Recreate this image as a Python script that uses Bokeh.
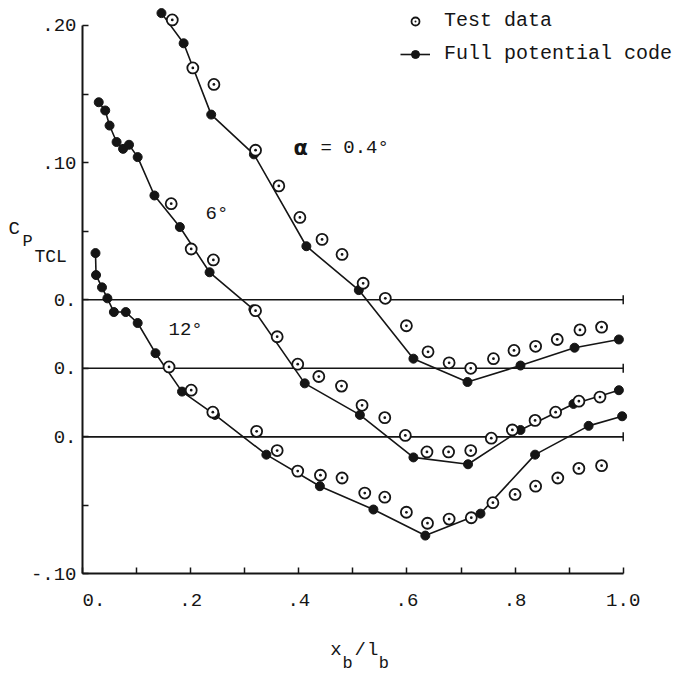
import math
from bokeh.plotting import figure
from bokeh.models import Range1d, FixedTicker, Label, Legend, LegendItem, ColumnDataSource
from bokeh.embed import file_html
from bokeh.resources import INLINE

# ---------------- data ----------------
# alpha = 0.4 deg  (plotted with zero at 0.00)
x_fp_a04 = [0.146, 0.187, 0.238, 0.317, 0.414, 0.511, 0.612, 0.712, 0.810, 0.910, 0.992]
cp_fp_a04 = [0.209, 0.187, 0.135, 0.106, 0.039, 0.007, -0.043, -0.060, -0.048, -0.035, -0.029]
x_td_a04 = [0.166, 0.204, 0.243, 0.320, 0.363, 0.402, 0.443, 0.480, 0.519, 0.560,
            0.599, 0.639, 0.678, 0.718, 0.760, 0.798, 0.838, 0.878, 0.920, 0.960]
cp_td_a04 = [0.204, 0.169, 0.157, 0.109, 0.083, 0.060, 0.044, 0.033, 0.012, 0.001,
             -0.019, -0.038, -0.046, -0.050, -0.043, -0.037, -0.034, -0.029, -0.022, -0.020]

# alpha = 6 deg  (plotted with zero shifted down by 0.05)
x_fp_a06 = [0.030, 0.042, 0.050, 0.063, 0.075, 0.086, 0.102, 0.133, 0.180, 0.235,
            0.316, 0.411, 0.513, 0.612, 0.713, 0.810, 0.908, 0.992]
cp_fp_a06 = [0.194, 0.188, 0.177, 0.165, 0.160, 0.163, 0.154, 0.126, 0.103, 0.070,
             0.043, -0.011, -0.034, -0.065, -0.070, -0.045, -0.026, -0.016]
x_td_a06 = [0.164, 0.201, 0.242, 0.320, 0.360, 0.398, 0.437, 0.479, 0.517, 0.559,
            0.597, 0.637, 0.677, 0.718, 0.756, 0.795, 0.837, 0.875, 0.918, 0.957]
cp_td_a06 = [0.120, 0.087, 0.079, 0.042, 0.023, 0.003, -0.006, -0.013, -0.027, -0.036,
             -0.049, -0.061, -0.061, -0.060, -0.051, -0.045, -0.038, -0.032, -0.024, -0.021]

# alpha = 12 deg  (plotted with zero shifted down by 0.10)
x_fp_a12 = [0.024, 0.025, 0.036, 0.046, 0.058, 0.080, 0.102, 0.135, 0.184, 0.245,
            0.340, 0.439, 0.538, 0.634, 0.736, 0.837, 0.936, 0.998]
cp_fp_a12 = [0.134, 0.118, 0.109, 0.101, 0.091, 0.091, 0.083, 0.061, 0.033, 0.016,
             -0.013, -0.036, -0.053, -0.072, -0.056, -0.013, 0.008, 0.015]
x_td_a12 = [0.160, 0.201, 0.241, 0.322, 0.360, 0.398, 0.440, 0.480, 0.522, 0.559,
            0.599, 0.638, 0.678, 0.719, 0.759, 0.800, 0.838, 0.879, 0.918, 0.960]
cp_td_a12 = [0.051, 0.034, 0.018, 0.004, -0.010, -0.025, -0.028, -0.030, -0.041, -0.044,
             -0.055, -0.063, -0.060, -0.059, -0.048, -0.042, -0.036, -0.030, -0.023, -0.021]

curve_offsets = [0.0, 0.05, 0.10]          # vertical stagger of the three curves
curve_labels = ["0.4", "6", "12"]

y_tick_values = [-0.20, -0.15, -0.10, -0.05, 0.0, 0.05, 0.10, 0.15, 0.20]
y_tick_labels = ["-.10", "", "0.", "0.", "0.", "", ".10", "", ".20"]
x_tick_values = [0.0, 0.1, 0.2, 0.3, 0.4, 0.5, 0.6, 0.7, 0.8, 0.9, 1.0]
x_tick_labels = ["\u00a0\u00a00.", "", ".2", "", ".4", "", ".6", "", ".8", "", "1.0"]

# ---------------- figure ----------------
INK = "#151515"
MONO = "Liberation Mono"

p = figure(width=681, height=677, output_backend="svg", toolbar_location=None,
           x_range=Range1d(-0.1517, 1.1078), y_range=Range1d(-0.2755, 0.2182),
           min_border_left=0, min_border_right=0, min_border_top=0, min_border_bottom=0)
p.outline_line_color = None
p.grid.visible = False
p.background_fill_color = "white"
p.border_fill_color = "white"

# axes (drawn at the data position of the plot's own frame)
p.xaxis.fixed_location = -0.20
p.yaxis.fixed_location = 0.0
p.xaxis.bounds = (0.0, 1.0)
p.yaxis.bounds = (-0.20, 0.20)
p.xaxis.ticker = FixedTicker(ticks=x_tick_values)
p.yaxis.ticker = FixedTicker(ticks=y_tick_values)
p.xaxis.major_label_overrides = {v: s for v, s in zip(x_tick_values, x_tick_labels)}
p.yaxis.major_label_overrides = {v: s for v, s in zip(y_tick_values, y_tick_labels)}
for ax in (p.xaxis[0], p.yaxis[0]):
    ax.axis_line_color = INK
    ax.axis_line_width = 2
    ax.major_tick_line_color = INK
    ax.major_tick_line_width = 1.5
    ax.major_tick_in = 6
    ax.major_tick_out = 0
    ax.minor_tick_line_color = None
    ax.major_label_text_font = MONO
    ax.major_label_text_font_size = "19px"
    ax.major_label_text_color = INK
p.xaxis.major_label_standoff = 16
p.yaxis.major_label_standoff = 6

# reference (zero) lines of the three curves, with an end tick at x = 1.0
zero_y = [-o for o in curve_offsets]
p.segment(x0=[x_tick_values[0]] * 3, x1=[x_tick_values[-1]] * 3, y0=zero_y, y1=zero_y,
          line_color=INK, line_width=1.6)
p.scatter(x=[x_tick_values[-1]] * 3, y=zero_y, marker="dash", angle=math.pi / 2, size=9,
          line_color=INK, line_width=1.5)

series = [
    (x_fp_a04, cp_fp_a04, x_td_a04, cp_td_a04),
    (x_fp_a06, cp_fp_a06, x_td_a06, cp_td_a06),
    (x_fp_a12, cp_fp_a12, x_td_a12, cp_td_a12),
]

legend_line = legend_dot = legend_open = None
for (xf, cf, xt, ct), off in zip(series, curve_offsets):
    src_f = ColumnDataSource(dict(x=xf, y=[c - off for c in cf]))
    src_t = ColumnDataSource(dict(x=xt, y=[c - off for c in ct]))
    ln = p.line("x", "y", source=src_f, line_color=INK, line_width=1.6)
    dt = p.scatter("x", "y", source=src_f, marker="circle", size=9,
                   fill_color=INK, line_color=INK)
    op = p.scatter("x", "y", source=src_t, marker="circle_dot", size=11,
                   fill_color="white", line_color=INK, line_width=1.8)
    if legend_line is None:
        legend_line, legend_dot, legend_open = ln, dt, op

legend = Legend(items=[LegendItem(label="Test data", renderers=[legend_open]),
                       LegendItem(label="Full potential code", renderers=[legend_line, legend_dot])],
                location=(400, 612), orientation="vertical",
                border_line_alpha=0, background_fill_alpha=0,
                padding=0, margin=0, glyph_width=30, glyph_height=20,
                label_standoff=14, spacing=10, label_height=20,
                label_text_font=MONO, label_text_font_size="20px", label_text_color=INK)
p.add_layout(legend)

# curve annotations
p.add_layout(Label(x=0.390, y=0.1108, text="α", text_font="DejaVu Sans", text_font_style="bold",
                   text_font_size="21px", text_color=INK, text_baseline="middle"))
p.add_layout(Label(x=0.440, y=0.1108, text="= " + curve_labels[0] + "°", text_font=MONO,
                   text_font_size="19px", text_color=INK, text_baseline="middle"))
p.add_layout(Label(x=0.2275, y=0.0627, text=curve_labels[1] + "°", text_font=MONO,
                   text_font_size="19px", text_color=INK, text_baseline="middle"))
p.add_layout(Label(x=0.159, y=-0.0219, text=curve_labels[2] + "°", text_font=MONO,
                   text_font_size="19px", text_color=INK, text_baseline="middle"))

# y axis title  C_P_TCL
p.add_layout(Label(x=-0.137, y=0.0517, text="C", text_font=MONO, text_font_size="19px",
                   text_color=INK, text_baseline="middle"))
p.add_layout(Label(x=-0.111, y=0.0423, text="P", text_font=MONO, text_font_size="17px",
                   text_color=INK, text_baseline="middle"))
p.add_layout(Label(x=-0.089, y=0.0313, text="TCL", text_font=MONO, text_font_size="18px",
                   text_color=INK, text_baseline="middle"))

# x axis title  x_b / l_b
for xx, yy, t, fs in [(0.458, -0.2558, "x", "19px"), (0.481, -0.2650, "b", "17px"),
                      (0.503, -0.2558, "/", "19px"), (0.526, -0.2558, "l", "19px"),
                      (0.548, -0.2650, "b", "17px")]:
    p.add_layout(Label(x=xx, y=yy, text=t, text_font=MONO, text_font_size=fs,
                       text_color=INK, text_baseline="middle"))

open("out.html", "w").write(file_html(p, INLINE))
